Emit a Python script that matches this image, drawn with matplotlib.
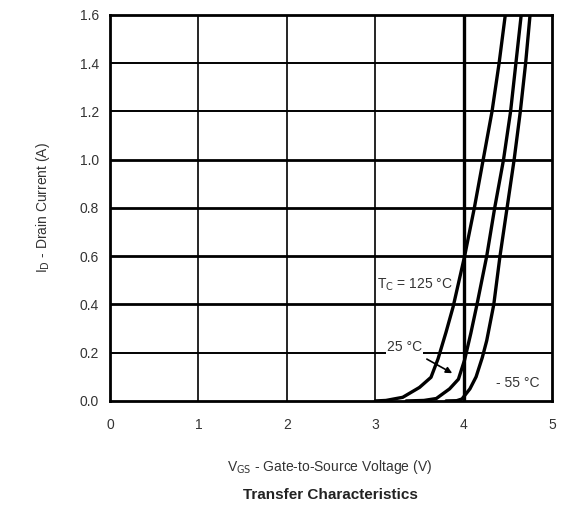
import matplotlib
matplotlib.use("Agg")
import matplotlib.pyplot as plt

plt.rcParams['font.family'] = ['Liberation Sans', 'DejaVu Sans']

# Data
v_125 = [3.00, 3.12, 3.31, 3.50, 3.63, 3.71, 3.80, 3.88, 4.01, 4.12, 4.22, 4.32, 4.40, 4.47]
i_125 = [0.0, 0.002, 0.015, 0.056, 0.098, 0.175, 0.285, 0.39, 0.60, 0.80, 1.00, 1.20, 1.40, 1.60]

v_25 = [3.35, 3.55, 3.69, 3.84, 3.94, 4.01, 4.08, 4.15, 4.26, 4.35, 4.45, 4.53, 4.59, 4.65]
i_25 = [0.0, 0.002, 0.01, 0.05, 0.09, 0.17, 0.28, 0.40, 0.60, 0.80, 1.00, 1.20, 1.40, 1.60]

v_m55 = [3.80, 3.92, 3.98, 4.07, 4.14, 4.21, 4.26, 4.34, 4.41, 4.49, 4.57, 4.64, 4.70, 4.75]
i_m55 = [0.0, 0.001, 0.008, 0.05, 0.10, 0.18, 0.25, 0.40, 0.60, 0.80, 1.00, 1.20, 1.40, 1.60]

x_ticks = [0, 1, 2, 3, 4, 5]
y_ticks = [0.0, 0.2, 0.4, 0.6, 0.8, 1.0, 1.2, 1.4, 1.6]

fig = plt.figure(figsize=(5.64, 5.16), dpi=100)
ax = fig.add_axes([0.195, 0.223, 0.784, 0.748])

ax.set_xlim(0, 5)
ax.set_ylim(0, 1.6)

# grid
for y in y_ticks[1:-1]:
    lw = 2.0 if y in (0.4, 0.6, 0.8, 1.0) else 1.4
    ax.axhline(y, color='black', lw=lw, zorder=1)
for x in x_ticks[1:-1]:
    lw = 2.4 if x == 4 else 1.2
    ax.axvline(x, color='black', lw=lw, zorder=1)

for v, i in ((v_125, i_125), (v_25, i_25), (v_m55, i_m55)):
    ax.plot(v, i, color='black', lw=2.4, solid_capstyle='round', solid_joinstyle='round',
            zorder=3, clip_on=True)

ax.set_xticks(x_ticks)
ax.set_yticks(y_ticks)
ax.set_xticklabels([str(x) for x in x_ticks])
ax.set_yticklabels([f"{y:.1f}" for y in y_ticks])
ax.tick_params(length=0, labelsize=10, colors='#333333')
ax.tick_params(axis='x', pad=12)
ax.tick_params(axis='y', pad=8)

for s in ax.spines.values():
    s.set_linewidth(2.0)
    s.set_color('black')

ax.text(3.87, 0.48, r"T$_{\mathrm{C}}$ = 125 °C", ha='right', va='center', fontsize=10, color='#333333',
        bbox=dict(facecolor='white', edgecolor='none', pad=0.5), zorder=2)
ax.annotate("25 °C", xy=(3.87, 0.115), xytext=(3.33, 0.225), ha='center', va='center',
            fontsize=10, color='#333333',
            bbox=dict(facecolor='white', edgecolor='none', pad=1.0),
            arrowprops=dict(arrowstyle='-|>', color='black', lw=1.2, shrinkA=6, shrinkB=0,
                            mutation_scale=9), zorder=4)
ax.text(4.37, 0.075, "- 55 °C", ha='left', va='center', fontsize=10, color='#333333', zorder=2)

ax.set_ylabel(r"I$_{\mathrm{D}}$ - Drain Current (A)", fontsize=10, color='#333333', labelpad=20)
fig.text(0.585, 0.094, r"V$_{\mathrm{GS}}$ - Gate-to-Source Voltage (V)", ha='center', va='center',
         fontsize=10, color='#333333')
fig.text(0.585, 0.040, "Transfer Characteristics", ha='center', va='center',
         fontsize=11, fontweight='bold', color='#222222')

fig.savefig("out.png", dpi=100)
